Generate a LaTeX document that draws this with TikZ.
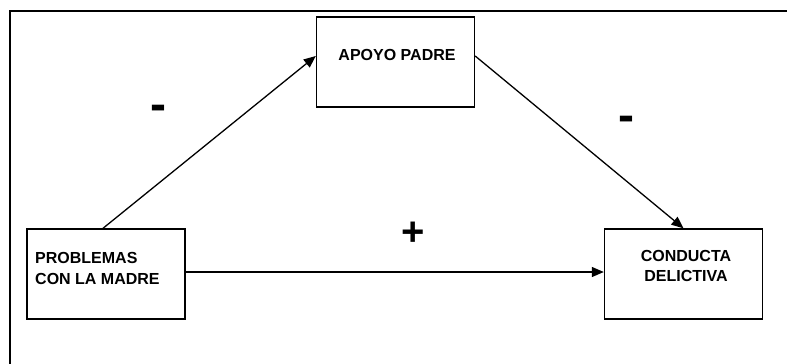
\documentclass[tikz,border=0pt]{standalone}
\usepackage{fontspec}
\setmainfont{Liberation Sans}
\usetikzlibrary{arrows.meta,calc}
\tikzset{
  box/.style={draw=black, line width=1.4pt, rectangle, minimum width=158pt, minimum height=90pt, inner sep=0pt},
  lbl/.style={font=\fontsize{16}{21}\selectfont\bfseries, inner sep=0pt},
  sign/.style={font=\fontsize{40}{40}\selectfont\bfseries, inner sep=0pt},
  minus/.style={font=\fontsize{48}{48}\selectfont\bfseries, inner sep=0pt},
  conn/.style={line width=1.3pt, -{Triangle[length=12pt,width=10pt]}}
}
\begin{document}
\begin{tikzpicture}[x=1pt,y=-1pt]
\useasboundingbox (0,0) rectangle (787,364);
% outer frame (open on right and bottom)
\draw[line width=1.8pt] (10,370) -- (10,11) -- (795,11);
% boxes
\node[box] (apoyo) at (395.5,62) {};
\node[box] (prob) at (106,274) {};
\node[box] (cond) at (683.5,274) {};
% texts
\node[lbl, anchor=center] (apoyoT) at (397,55) {APOYO PADRE};
\node[lbl, anchor=west, align=left] (probT) at (35,268.5) {PROBLEMAS\\CON LA MADRE};
\node[lbl, anchor=center, align=center, font=\fontsize{16}{19.5}\selectfont\bfseries] (condT) at (686,266) {CONDUCTA\\DELICTIVA};
% connectors
\draw[conn] ([xshift=-3pt]prob.north) -- ([yshift=6pt]apoyo.west);
\draw[conn] ([yshift=6pt]apoyo.east) -- (cond.north);
\draw[conn] ([yshift=2pt]prob.east) -- ([yshift=2pt]cond.west);
% signs
\node[minus] (s1) at (158,113) {-};
\node[minus] (s2) at (626,124) {-};
\node[sign] (s3) at (413,234) {+};
\end{tikzpicture}
\end{document}
